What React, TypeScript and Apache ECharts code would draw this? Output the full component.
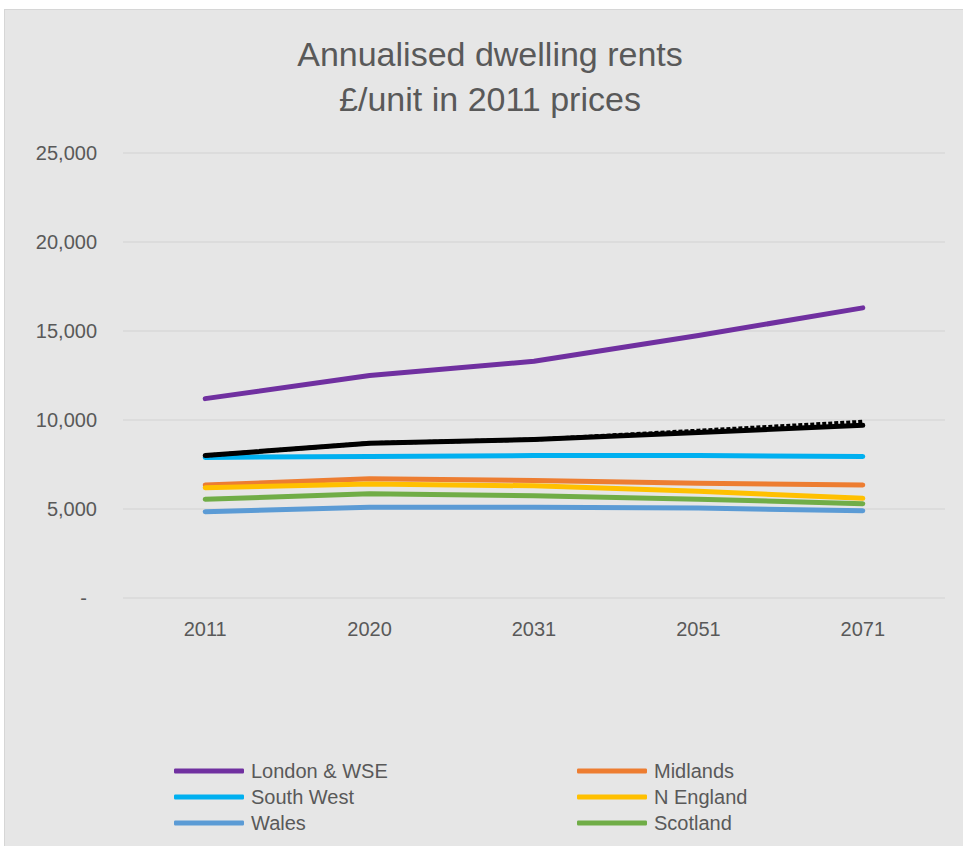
import React, { useEffect, useRef } from "react";
import * as echarts from "echarts";

const years = ["2011", "2020", "2031", "2051", "2071"];
const londonWSE = [11200, 12500, 13300, 14750, 16300];
const midlands = [6350, 6700, 6600, 6450, 6350];
const southWest = [7900, 7950, 8000, 8000, 7950];
const nEngland = [6200, 6400, 6300, 6000, 5600];
const wales = [4850, 5100, 5100, 5050, 4900];
const scotland = [5550, 5850, 5750, 5550, 5300];
const averageSolid = [8000, 8700, 8900, 9300, 9700];
const averageDashed = [8000, 8700, 8900, 9400, 9900];

const legendLeft = ["London & WSE", "South West", "Wales"];
const legendRight = ["Midlands", "N England", "Scotland"];

const TEXT = "#595959";
const FONT = "'Liberation Sans', Arial, sans-serif";

export default function App() {
  const ref = useRef<HTMLDivElement>(null);

  useEffect(() => {
    if (!ref.current) return;
    const chart = echarts.init(ref.current, undefined, { renderer: "svg" });
    const mk = (name: string, data: number[], color: string, extra: any = {}) => ({
      name,
      type: "line",
      data,
      symbol: "none",
      smooth: false,
      color,
      itemStyle: { color },
      lineStyle: { color, width: 5, cap: "round", join: "round", ...(extra.lineStyle || {}) },
      z: extra.z ?? 2,
    });
    const legendCommon = {
      orient: "vertical",
      top: 752,
      padding: 0,
      itemWidth: 70,
      itemHeight: 5,
      itemGap: 6,
      icon: "roundRect",
      textStyle: { color: TEXT, fontSize: 20, lineHeight: 20, fontFamily: FONT, padding: [0, 0, 0, 2] },
    };
    chart.setOption({
      animation: false,
      backgroundColor: "transparent",
      textStyle: { fontFamily: FONT },
      title: {
        text: "Annualised dwelling rents\n£/unit in 2011 prices",
        left: 486,
        textAlign: "center",
        top: 22,
        padding: 0,
        textStyle: { color: TEXT, fontSize: 34, fontWeight: "normal", lineHeight: 45, fontFamily: FONT },
      },
      legend: [
        { ...legendCommon, left: 170, data: legendLeft },
        { ...legendCommon, left: 573, data: legendRight },
      ],
      grid: { left: 119, right: 18, top: 144, bottom: 248, containLabel: false },
      xAxis: {
        type: "category",
        data: years,
        boundaryGap: true,
        axisLine: { show: false },
        axisTick: { show: false },
        axisLabel: { color: TEXT, fontSize: 20, margin: 21, fontFamily: FONT },
      },
      yAxis: {
        type: "value",
        min: 0,
        max: 25000,
        interval: 5000,
        axisLine: { show: false },
        axisTick: { show: false },
        splitLine: { lineStyle: { color: "#d9d9d9", width: 1.5 } },
        axisLabel: {
          color: TEXT,
          fontSize: 20,
          margin: 26,
          fontFamily: FONT,
          formatter: (v: number) => (v === 0 ? "{z|-}" : v.toLocaleString("en-US")),
          rich: { z: { color: TEXT, fontSize: 20, fontFamily: FONT, padding: [0, 10, 0, 0] } },
        },
      },
      series: [
        mk("London & WSE", londonWSE, "#7030a0"),
        mk("Midlands", midlands, "#ed7d31"),
        mk("South West", southWest, "#00b0f0"),
        mk("N England", nEngland, "#ffc000"),
        mk("Wales", wales, "#5b9bd5"),
        mk("Scotland", scotland, "#70ad47"),
        mk("Average (projected)", averageDashed, "#000000", {
          lineStyle: { width: 4, type: [4, 2], cap: "butt" },
          z: 3,
        }),
        mk("Average", averageSolid, "#000000", { z: 4 }),
      ],
    });
    return () => chart.dispose();
  }, []);

  return (
    <div
      style={{
        position: "fixed",
        left: 4,
        top: 9,
        width: 959,
        height: 837,
        background: "#e6e6e6",
        borderTop: "1px solid #d6d6d6",
        borderLeft: "1px solid #d6d6d6",
        boxSizing: "border-box",
      }}
    >
      <div ref={ref} style={{ position: "absolute", left: -1, top: -1, width: 959, height: 837 }} />
    </div>
  );
}
